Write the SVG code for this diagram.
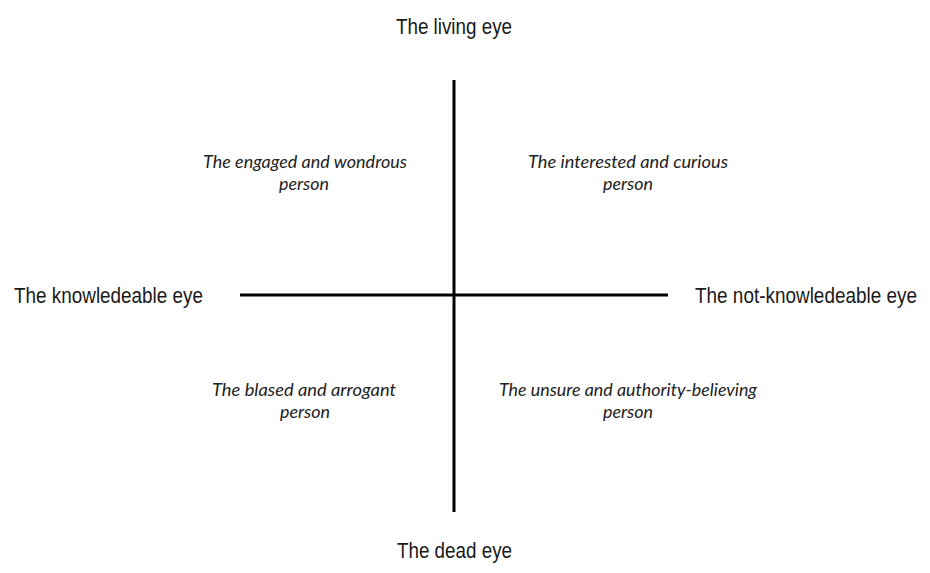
<svg xmlns="http://www.w3.org/2000/svg" width="930" height="573" viewBox="0 0 930 573">
<style>
.axis{font-family:"Liberation Sans Narrow","Liberation Sans",Arial,sans-serif;font-size:19px;fill:#1a1a1a}
.q{font-family:Lato,"Liberation Sans",sans-serif;font-style:italic;font-size:17px;fill:#222;text-anchor:middle}
.ln{stroke:#000;stroke-width:3;fill:none}
</style>
<rect width="930" height="573" fill="#fff"/>
<g id="connectors">
<line class="ln" x1="454" y1="80" x2="454" y2="512"/>
<line class="ln" x1="240" y1="295" x2="668" y2="295"/>
</g>
<g id="living"><text class="axis" transform="translate(396,34) scale(1,1.2)" x="0" y="0" textLength="116" lengthAdjust="spacingAndGlyphs">The living eye</text></g>
<g id="dead"><text class="axis" transform="translate(397,558) scale(1,1.2)" x="0" y="0" textLength="115" lengthAdjust="spacingAndGlyphs">The dead eye</text></g>
<g id="knowledeable"><text class="axis" transform="translate(14,303) scale(1,1.2)" x="0" y="0" textLength="189" lengthAdjust="spacingAndGlyphs">The knowledeable eye</text></g>
<g id="notknowledeable"><text class="axis" transform="translate(695,303) scale(1,1.2)" x="0" y="0" textLength="222" lengthAdjust="spacingAndGlyphs">The not-knowledeable eye</text></g>
<g id="engaged"><text class="q" x="305" y="168" textLength="204" lengthAdjust="spacingAndGlyphs">The engaged and wondrous</text><text class="q" x="304" y="190" textLength="50" lengthAdjust="spacingAndGlyphs">person</text></g>
<g id="interested"><text class="q" x="628" y="168" textLength="200" lengthAdjust="spacingAndGlyphs">The interested and curious</text><text class="q" x="628" y="190" textLength="50" lengthAdjust="spacingAndGlyphs">person</text></g>
<g id="blased"><text class="q" x="304" y="396" textLength="184" lengthAdjust="spacingAndGlyphs">The blased and arrogant</text><text class="q" x="305" y="418" textLength="50" lengthAdjust="spacingAndGlyphs">person</text></g>
<g id="unsure"><text class="q" x="628" y="396" textLength="258" lengthAdjust="spacingAndGlyphs">The unsure and authority-believing</text><text class="q" x="628" y="418" textLength="50" lengthAdjust="spacingAndGlyphs">person</text></g>
</svg>
